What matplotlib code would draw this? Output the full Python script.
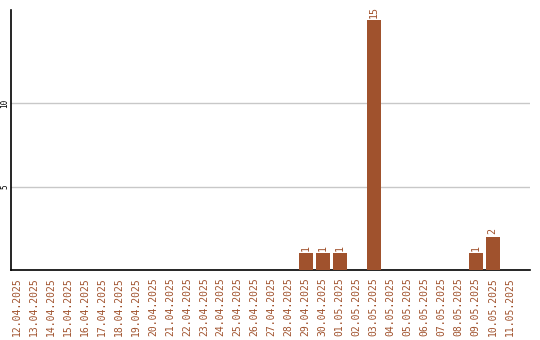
import matplotlib
matplotlib.use('Agg')
import matplotlib.pyplot as plt
import numpy as np

dates = ['12.04.2025', '13.04.2025', '14.04.2025', '15.04.2025', '16.04.2025',
         '17.04.2025', '18.04.2025', '19.04.2025', '20.04.2025', '21.04.2025',
         '22.04.2025', '23.04.2025', '24.04.2025', '25.04.2025', '26.04.2025',
         '27.04.2025', '28.04.2025', '29.04.2025', '30.04.2025', '01.05.2025',
         '02.05.2025', '03.05.2025', '04.05.2025', '05.05.2025', '06.05.2025',
         '07.05.2025', '08.05.2025', '09.05.2025', '10.05.2025', '11.05.2025']
counts = [0, 0, 0, 0, 0, 0, 0, 0, 0, 0, 0, 0, 0, 0, 0, 0, 0,
          1, 1, 1, 0, 15, 0, 0, 0, 0, 0, 1, 2, 0]
yticks = [5, 10]

col = '#a0522d'
mono = 'DejaVu Sans Mono'

fig = plt.figure(figsize=(5.4, 3.4), dpi=100)
ax = fig.add_axes([11/540, 70/340, 519/540, 260/340])

x = np.arange(len(dates))
ax.bar(x, counts, width=0.82, color=col, zorder=3)
for xi, v in zip(x, counts):
    if v > 0:
        ax.text(xi, v + 0.15, str(v), rotation=90, ha='center', va='bottom',
                color=col, fontsize=7.2, family=mono)

ax.set_xlim(-0.35, 30.2)
ax.set_ylim(0, 15.6)
ax.set_xticks(x)
ax.set_xticklabels(dates, rotation=90, color=col, fontsize=7, family=mono)
ax.set_yticks(yticks)
ax.set_yticklabels([str(t) for t in yticks], rotation=90, va='center',
                   fontsize=5.5, family=mono)
ax.tick_params(axis='y', length=0, pad=1)
ax.tick_params(axis='x', length=0, pad=5)
ax.grid(axis='y', color='#c8c8c8', linewidth=1, zorder=0)
for s in ['top', 'right']:
    ax.spines[s].set_visible(False)
ax.spines['left'].set_linewidth(1.2)
ax.spines['bottom'].set_linewidth(1.2)

fig.savefig('out.png', dpi=100)
